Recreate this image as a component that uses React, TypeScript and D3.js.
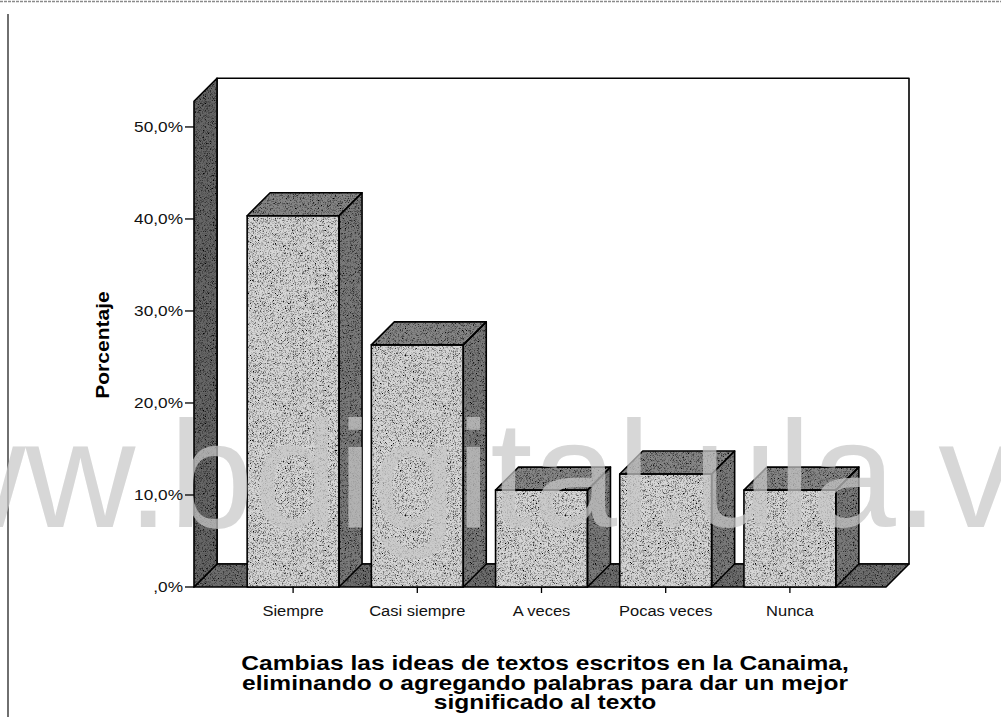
import React from "react";
import * as d3 from "d3";

const categories = ["Siempre", "Casi siempre", "A veces", "Pocas veces", "Nunca"];
const percentages = [40.35, 26.32, 10.53, 12.28, 10.53];
const yTickValues = [0, 10, 20, 30, 40, 50];
const yTickLabels = [",0%", "10,0%", "20,0%", "30,0%", "40,0%", "50,0%"];
const yAxisTitle = "Porcentaje";
const titleLines = [
  "Cambias las ideas de textos escritos en la Canaima,",
  "eliminando o agregando palabras para dar un mejor",
  "significado al texto",
];
const watermark = "www.bdigital.ula.ve";

const W = 1001;
const H = 717;
const Y0 = 587;
const YTOP = 101.2;
const YMAX = 52.8;
const DX = 23;
const DY = 23;
const FLOOR_L = 194;
const FLOOR_R = 886;

const FONT = "'Liberation Sans', Arial, sans-serif";

export default function App() {
  const y = d3.scaleLinear().domain([0, YMAX]).range([Y0, YTOP]);
  const x = d3
    .scaleBand<string>()
    .domain(categories)
    .range([231, 852])
    .paddingInner(0.26)
    .paddingOuter(0.13);
  const bw = x.bandwidth();

  const poly = (pts: [number, number][]) => {
    const p = d3.path();
    pts.forEach((pt, i) => (i === 0 ? p.moveTo(pt[0], pt[1]) : p.lineTo(pt[0], pt[1])));
    p.closePath();
    return p.toString();
  };

  const yTopBack = y(YMAX) - DY;
  const backWall = poly([
    [FLOOR_L + DX, yTopBack],
    [FLOOR_R + DX, yTopBack],
    [FLOOR_R + DX, Y0 - DY],
    [FLOOR_L + DX, Y0 - DY],
  ]);
  const floor = poly([
    [FLOOR_L, Y0],
    [FLOOR_R, Y0],
    [FLOOR_R + DX, Y0 - DY],
    [FLOOR_L + DX, Y0 - DY],
  ]);
  const leftWall = poly([
    [FLOOR_L, Y0],
    [FLOOR_L, y(YMAX)],
    [FLOOR_L + DX, yTopBack],
    [FLOOR_L + DX, Y0 - DY],
  ]);

  const stroke = { stroke: "#000", strokeWidth: 1.6, strokeLinejoin: "round" as const };

  return (
    <svg
      width={W}
      height={H}
      style={{ position: "absolute", left: 0, top: 0, background: "#fff" }}
      xmlns="http://www.w3.org/2000/svg"
    >
      <defs>
        <filter id="grain" x="0" y="0" width="100%" height="100%">
          <feTurbulence type="fractalNoise" baseFrequency="1.6" numOctaves="1" seed="4" result="n" />
          <feColorMatrix
            in="n"
            type="matrix"
            values="0 0 0 0 0  0 0 0 0 0  0 0 0 0 0  -3.4 0 0 0 1.85"
            result="d"
          />
          <feComposite in="d" in2="SourceAlpha" operator="in" result="dm" />
          <feMerge>
            <feMergeNode in="SourceGraphic" />
            <feMergeNode in="dm" />
          </feMerge>
        </filter>
      </defs>
      <rect x={0} y={0} width={W} height={H} fill="#fff" />

      {/* frame */}
      <line x1={0} x2={W} y1={1.5} y2={1.5} stroke="#8a8a8a" strokeWidth={1.5} strokeDasharray="3 1" />
      <line x1={8} x2={8} y1={14} y2={H} stroke="#222" strokeWidth={1.3} />

      {/* walls */}
      <path d={backWall} fill="#fff" {...stroke} />
      <path d={floor} fill="#6e6e6e" filter="url(#grain)" />
      <path d={floor} fill="none" {...stroke} />
      <path d={leftWall} fill="#666" filter="url(#grain)" />
      <path d={leftWall} fill="none" {...stroke} />

      {/* bars */}
      {categories.map((c, i) => {
        const x0 = x(c)!;
        const yv = y(percentages[i]);
        const front = poly([
          [x0, yv],
          [x0 + bw, yv],
          [x0 + bw, Y0],
          [x0, Y0],
        ]);
        const top = poly([
          [x0, yv],
          [x0 + DX, yv - DY],
          [x0 + bw + DX, yv - DY],
          [x0 + bw, yv],
        ]);
        const side = poly([
          [x0 + bw, yv],
          [x0 + bw + DX, yv - DY],
          [x0 + bw + DX, Y0 - DY],
          [x0 + bw, Y0],
        ]);
        return (
          <g key={c}>
            <path d={side} fill="#7a7a7a" filter="url(#grain)" />
            <path d={top} fill="#868686" filter="url(#grain)" />
            <path d={front} fill="#d6d6d6" filter="url(#grain)" />
            <path d={side} fill="none" {...stroke} />
            <path d={top} fill="none" {...stroke} />
            <path d={front} fill="none" {...stroke} />
          </g>
        );
      })}

      {/* watermark */}
      <text x={-194} y={527} fontFamily={FONT} fontSize={152} fill="#c8c8c8" opacity={0.72}>
        {watermark}
      </text>

      {/* y axis ticks */}
      {yTickValues.map((v, i) => (
        <g key={v}>
          <line x1={185} x2={FLOOR_L} y1={y(v)} y2={y(v)} stroke="#000" strokeWidth={1.3} />
          <g transform={`translate(183,${y(v)}) scale(1.15,1)`}>
            <text x={0} y={0} dy="0.36em" textAnchor="end" fontFamily={FONT} fontSize={15} fill="#111">
              {yTickLabels[i]}
            </text>
          </g>
        </g>
      ))}

      {/* x axis ticks & labels */}
      {categories.map((c) => {
        const cx = x(c)! + bw / 2;
        return (
          <g key={c}>
            <line x1={cx} x2={cx} y1={Y0} y2={Y0 + 6} stroke="#000" strokeWidth={1.3} />
            <g transform={`translate(${cx},616) scale(1.1,1)`}>
              <text x={0} y={0} textAnchor="middle" fontFamily={FONT} fontSize={15} fill="#111">
                {c}
              </text>
            </g>
          </g>
        );
      })}

      {/* y axis title */}
      <g transform="translate(109,345) rotate(-90) scale(1.17,1)">
        <text x={0} y={0} textAnchor="middle" fontFamily={FONT} fontSize={18} fontWeight="bold" fill="#000">
          {yAxisTitle}
        </text>
      </g>

      {/* x axis title */}
      {titleLines.map((t, i) => (
        <g key={i} transform={`translate(545,${670 + i * 19.5}) scale(1.26,1)`}>
          <text x={0} y={0} textAnchor="middle" fontFamily={FONT} fontSize={19.5} fontWeight="bold" fill="#000">
            {t}
          </text>
        </g>
      ))}
    </svg>
  );
}
